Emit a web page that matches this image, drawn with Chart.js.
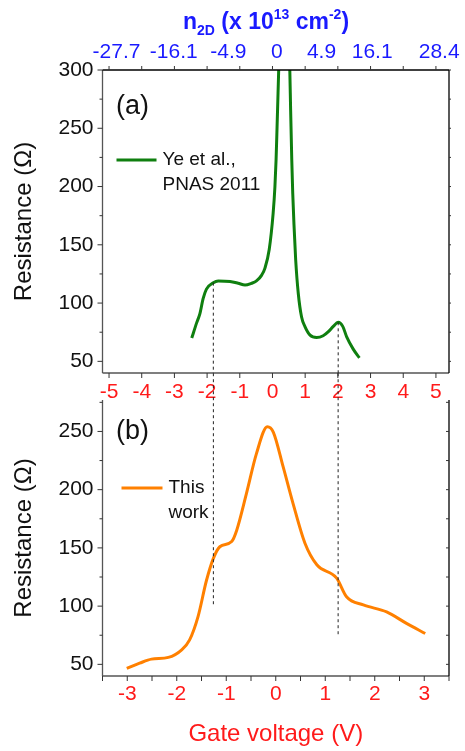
<!DOCTYPE html>
<html>
<head>
<meta charset="utf-8">
<script src="https://cdn.jsdelivr.net/npm/chart.js@4"></script>
<style>
  html, body { margin: 0; padding: 0; background: #fff; }
  #wrap { position: relative; width: 465px; height: 751px; }
  #wrap canvas { position: absolute; left: 0; top: 0; }
</style>
</head>
<body>
<div id="wrap">
  <canvas id="chart-a" width="465" height="751"></canvas>
  <canvas id="chart-b" width="465" height="751"></canvas>
</div>
<script>
// panel (a): Ye et al., PNAS 2011
const gateA = [-2.47, -2.32, -2.22, -2.12, -2.02, -1.81, -1.66, -1.30, -1.05, -0.84, -0.64, -0.49, -0.33, -0.23,
  -0.10, 0.02, 0.075, 0.11, 0.14, 0.17, 0.19, 0.30, 0.42, 0.53, 0.555, 0.59, 0.62, 0.66, 0.71, 0.79, 0.89, 0.99,
  1.15, 1.35, 1.55, 1.71, 1.86, 2.01, 2.15, 2.27, 2.47, 2.66];
const resA = [70, 83, 91, 104, 112, 117.5, 119, 118.5, 117, 115.5, 117, 119, 124, 130,
  146, 177, 200, 223, 251, 280, 300, 390, 390, 300, 266, 223, 194, 166, 137, 108, 88, 80,
  72.5, 70.5, 72, 75.5, 80, 83.5, 80, 71, 60.5, 53];

// panel (b): this work
const gateB = [-3.01, -2.75, -2.51, -2.17, -1.90, -1.74, -1.57, -1.40, -1.26, -1.13, -0.89, -0.79, -0.59, -0.39,
  -0.17, -0.05, 0.15, 0.35, 0.59, 0.83, 1.23, 1.43, 1.77, 2.24, 2.65, 3.02];
const resB = [46.5, 51, 54.5, 56, 62.5, 71, 91, 122, 141, 151, 155.5, 165, 197, 231,
  254, 249.5, 219.5, 188, 154, 135.5, 124, 108, 101, 95, 85, 76.5];

// tick labels
const gateTicksA = [-5, -4, -3, -2, -1, 0, 1, 2, 3, 4, 5];
const gateTicksB = [-3, -2, -1, 0, 1, 2, 3];
const nTickPos = [-4.77, -3.02, -1.35, 0.13, 1.5, 3.05, 5.1];
const nTickLabels = ["-27.7", "-16.1", "-4.9", "0", "4.9", "16.1", "28.4"];
const resTicksA = [50, 100, 150, 200, 250, 300];
const resTicksB = [50, 100, 150, 200, 250];

// features linked between the panels (gate voltage, resistance)
const markGateA = [-1.81, 2.01];
const markResA = [117.5, 83.5];
const markGateB = [-1.26, 1.26];
const markResB = [101, 75];

const FONT = "'Liberation Sans', Arial, sans-serif";
const RED = "#ff1a1a";
const BLUE = "#1a1aff";
const GREEN = "#0f7f0f";
const ORANGE = "#ff8000";
const INK = "#111";

Chart.defaults.font.family = FONT;

function range(a, b, step) {
  const out = [];
  for (let v = a; v <= b + 1e-9; v += step) out.push(+v.toFixed(3));
  return out;
}

function seg(ctx, x1, y1, x2, y2) {
  ctx.beginPath();
  ctx.moveTo(x1, y1);
  ctx.lineTo(x2, y2);
  ctx.stroke();
}

const panelDeco = {
  id: "panelDeco",
  afterDraw(chart, args, o) {
    const { ctx, chartArea: a } = chart;
    const xs = chart.scales.x, ys = chart.scales.y;
    ctx.save();

    // frame
    ctx.lineWidth = 1.3;
    ctx.strokeStyle = "#555";
    seg(ctx, a.left, a.top, a.left, a.bottom);
    seg(ctx, a.left, a.bottom, a.right, a.bottom);
    ctx.strokeStyle = "#000";
    seg(ctx, a.right, a.top, a.right, a.bottom);
    if (o.frameTop) seg(ctx, a.left, a.top, a.right, a.top);

    // tick marks
    ctx.lineWidth = 1;
    ctx.strokeStyle = "#333";
    o.leftMajor.forEach(v => { const p = ys.getPixelForValue(v); seg(ctx, a.left - 5, p, a.left, p); });
    o.leftMinor.forEach(v => { const p = ys.getPixelForValue(v); seg(ctx, a.left - 3, p, a.left, p); });
    o.right.forEach(v => { const p = ys.getPixelForValue(v); seg(ctx, a.right, p, a.right + o.rightLen, p); });
    o.bottom.forEach(v => { const p = xs.getPixelForValue(v); seg(ctx, p, a.bottom, p, a.bottom + 5); });
    o.top.forEach(v => { const p = xs.getPixelForValue(v); seg(ctx, p, a.top, p, a.top - 4); });

    // dotted guide lines
    ctx.setLineDash([3, 3]);
    ctx.strokeStyle = "#222";
    o.markGate.forEach((g, i) => {
      const px = xs.getPixelForValue(g);
      const pr = ys.getPixelForValue(o.markRes[i]);
      if (o.frameTop) seg(ctx, px, pr, px, a.bottom);
      else seg(ctx, px, ys.getPixelForValue(300), px, pr);
    });
    ctx.setLineDash([]);

    // legend
    const ds = chart.data.datasets[0];
    ctx.strokeStyle = ds.borderColor;
    ctx.lineWidth = 3;
    seg(ctx, a.left + o.legend[0], a.top + o.legend[2], a.left + o.legend[1], a.top + o.legend[2]);
    ctx.fillStyle = INK;
    ctx.font = "19px " + FONT;
    ctx.textBaseline = "middle";
    ctx.textAlign = "left";
    ds.label.split("\n").forEach((t, i) => {
      ctx.fillText(t, a.left + o.legend[1] + 6, a.top + o.legend[2] + i * 25);
    });

    // panel letter
    ctx.font = "27px " + FONT;
    ctx.textAlign = "center";
    ctx.fillText(o.letter, a.left + 30, a.top + o.letterY);

    // top title with sub/superscripts
    if (o.nTitle) {
      const big = "bold 23px " + FONT, small = "bold 14px " + FONT;
      const parts = [["n", big, 0], ["2D", small, 6], [" (x 10", big, 0], ["13", small, -10],
        [" cm", big, 0], ["-2", small, -10], [")", big, 0]];
      let w = 0;
      parts.forEach(p => { ctx.font = p[1]; w += ctx.measureText(p[0]).width; });
      let x = 266 - w / 2;
      ctx.fillStyle = BLUE;
      ctx.textAlign = "left";
      ctx.textBaseline = "alphabetic";
      parts.forEach(p => {
        ctx.font = p[1];
        ctx.fillText(p[0], x, 29 + p[2]);
        x += ctx.measureText(p[0]).width;
      });
    }
    ctx.restore();
  }
};

function fixW(w) {
  return s => { s.width = w; s.paddingTop = 0; s.paddingBottom = 0; };
}
function fixH(h) {
  return s => { s.height = h; s.paddingLeft = 0; s.paddingRight = 0; };
}
function setTicks(list) {
  return s => { s.ticks = list.map(v => ({ value: v })); };
}

const yAxisTitle = { display: true, text: "Resistance (\u03a9)", color: INK, font: { size: 24 }, padding: { top: 10, bottom: 0 } };

new Chart(document.getElementById("chart-a"), {
  type: "line",
  data: {
    datasets: [{
      label: "Ye et al.,\nPNAS 2011",
      data: gateA.map((g, i) => ({ x: g, y: resA[i] })),
      borderColor: GREEN,
      borderWidth: 3,
      pointRadius: 0,
      cubicInterpolationMode: "monotone",
      clip: 0,
      xAxisID: "x",
      yAxisID: "y",
    }],
  },
  options: {
    responsive: false,
    animation: false,
    events: [],
    layout: { padding: { left: 0, top: 0, right: 16, bottom: 751 - 373 - 40 } },
    plugins: {
      legend: { display: false },
      tooltip: { enabled: false },
      panelDeco: {
        frameTop: true,
        leftMajor: range(50, 300, 50),
        leftMinor: range(75, 275, 50),
        right: range(50, 300, 25),
        rightLen: 2,
        bottom: range(-5, 5, 1),
        top: range(-5, 5, 1),
        markGate: markGateA,
        markRes: markResA,
        legend: [14, 54, 90],
        letter: "(a)",
        letterY: 37,
        nTitle: true,
      },
    },
    scales: {
      x: {
        type: "linear", position: "bottom", min: -5.2, max: 5.4,
        afterBuildTicks: setTicks(gateTicksA),
        afterFit: fixH(40),
        grid: { display: false, drawTicks: false },
        border: { display: false },
        ticks: { color: RED, font: { size: 21 }, padding: 7, maxRotation: 0, autoSkip: false, callback: v => String(v) },
      },
      xn: {
        type: "linear", position: "top", min: -5.2, max: 5.4,
        afterBuildTicks: setTicks(nTickPos),
        afterFit: fixH(70),
        grid: { display: false, drawTicks: false },
        border: { display: false },
        ticks: { color: BLUE, font: { size: 21 }, padding: 5, maxRotation: 0, autoSkip: false, callback: (v, i) => nTickLabels[i] },
      },
      y: {
        type: "linear", position: "left", min: 40, max: 300,
        afterBuildTicks: setTicks(resTicksA),
        afterFit: fixW(102.5),
        grid: { display: false, drawTicks: false },
        border: { display: false },
        ticks: { color: INK, font: { size: 21 }, padding: 9 },
        title: yAxisTitle,
      },
    },
  },
  plugins: [panelDeco],
});

new Chart(document.getElementById("chart-b"), {
  type: "line",
  data: {
    datasets: [{
      label: "This\nwork",
      data: gateB.map((g, i) => ({ x: g, y: resB[i] })),
      borderColor: ORANGE,
      borderWidth: 3,
      pointRadius: 0,
      cubicInterpolationMode: "monotone",
      clip: 0,
    }],
  },
  options: {
    responsive: false,
    animation: false,
    events: [],
    layout: { padding: { left: 0, top: 400, right: 16, bottom: 0 } },
    plugins: {
      legend: { display: false },
      tooltip: { enabled: false },
      panelDeco: {
        frameTop: false,
        leftMajor: range(50, 250, 50),
        leftMinor: range(75, 275, 50),
        right: range(50, 275, 25),
        rightLen: -3,
        bottom: range(-3.5, 3.5, 0.5),
        top: [],
        markGate: markGateB,
        markRes: markResB,
        legend: [19, 60, 88],
        letter: "(b)",
        letterY: 32,
        nTitle: false,
      },
    },
    scales: {
      x: {
        type: "linear", position: "bottom", min: -3.5, max: 3.5,
        afterBuildTicks: setTicks(gateTicksB),
        afterFit: fixH(75),
        grid: { display: false, drawTicks: false },
        border: { display: false },
        ticks: { color: RED, font: { size: 21 }, padding: 6, maxRotation: 0, autoSkip: false, callback: v => String(v) },
        title: { display: true, text: "Gate voltage (V)", color: RED, font: { size: 24 }, padding: { top: 0, bottom: 2 } },
      },
      y: {
        type: "linear", position: "left", min: 40, max: 277,
        afterBuildTicks: setTicks(resTicksB),
        afterFit: fixW(102.5),
        grid: { display: false, drawTicks: false },
        border: { display: false },
        ticks: { color: INK, font: { size: 21 }, padding: 9 },
        title: yAxisTitle,
      },
    },
  },
  plugins: [panelDeco],
});
</script>
</body>
</html>
